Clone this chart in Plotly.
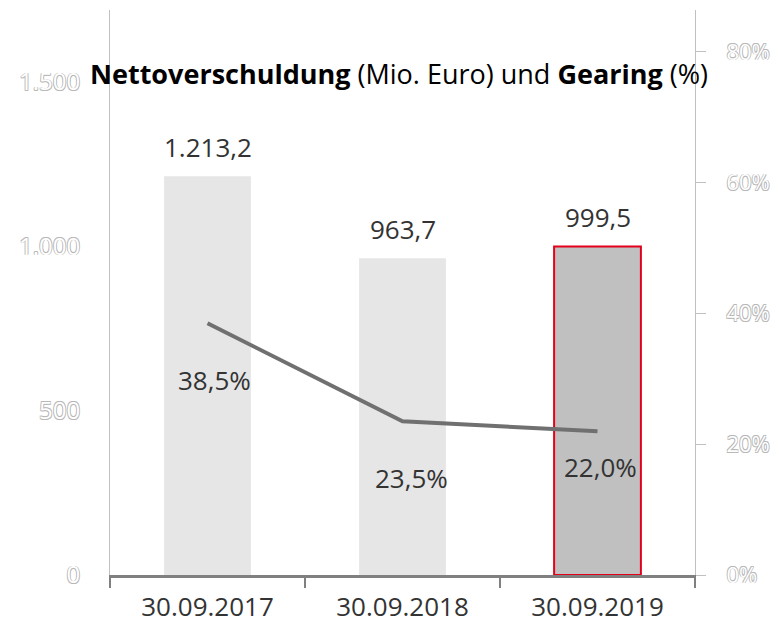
import plotly.graph_objects as go

# Data
dates = ['30.09.2017', '30.09.2018', '30.09.2019']
net_debt = [1213.2, 963.7, 999.5]          # Mio. Euro
gearing = [38.5, 23.5, 22.0]               # %
debt_labels = ['1.213,2', '963,7', '999,5']
gearing_labels = ['38,5%', '23,5%', '22,0%']
left_ticks = [0, 500, 1000, 1500]
left_ticktext = ['0', '500', '1.000', '1.500']
right_ticks = [0, 20, 40, 60, 80]
right_ticktext = ['0%', '20%', '40%', '60%', '80%']

FONT = 'Open Sans'
TEXT = '#333333'
OUTLINE = ('-0.7px -0.7px 0 #b8b8b8, 0.7px -0.7px 0 #b8b8b8, '
           '-0.7px 0.7px 0 #b8b8b8, 0.7px 0.7px 0 #b8b8b8')

fig = go.Figure()

fig.add_trace(go.Bar(
    x=dates,
    y=net_debt,
    width=0.445,
    marker=dict(
        color=['#e6e6e6', '#e6e6e6', '#c0c0c0'],
        line=dict(color=['rgba(0,0,0,0)', 'rgba(0,0,0,0)', '#e2001a'], width=2),
    ),
    hoverinfo='skip',
    yaxis='y',
))

fig.add_trace(go.Scatter(
    x=dates,
    y=gearing,
    mode='lines',
    line=dict(color='#707070', width=4),
    hoverinfo='skip',
    yaxis='y2',
))

# value labels above the bars
for d, v, t in zip(dates, net_debt, debt_labels):
    fig.add_annotation(x=d, y=v, xref='x', yref='y', text=t, showarrow=False,
                       yanchor='middle', yshift=29,
                       font=dict(family=FONT, size=26, color=TEXT))

# gearing labels under the line
shifts = [(7, -57), (9, -57), (3, -36)]
for d, v, t, (dx, dy) in zip(dates, gearing, gearing_labels, shifts):
    fig.add_annotation(x=d, y=v, xref='x', yref='y2', text=t, showarrow=False,
                       yanchor='middle', xshift=dx, yshift=dy,
                       font=dict(family=FONT, size=26, color=TEXT))

fig.update_layout(
    width=779,
    height=623,
    margin=dict(l=102, r=92, t=2, b=56),
    plot_bgcolor='white',
    paper_bgcolor='white',
    showlegend=False,
    separators=',.',
    title=dict(
        text='<b>Nettoverschuldung</b> (Mio. Euro) und <b>Gearing</b> (%)',
        x=391 / 779, xanchor='center', xref='container',
        y=1 - 67 / 623, yanchor='middle', yref='container',
        font=dict(family=FONT, size=27, color='#000000'),
    ),
    xaxis=dict(
        showline=True, linecolor='#808080', linewidth=3,
        ticks='outside', tickson='boundaries', ticklen=10, tickwidth=2, tickcolor='#808080',
        tickfont=dict(family=FONT, size=26, color=TEXT),
        ticklabelstandoff=7,
        showgrid=False,
    ),
    yaxis=dict(
        range=[0, 1719], tickvals=left_ticks, ticktext=left_ticktext,
        showline=True, linecolor='#c0c0c0', linewidth=1,
        showgrid=False, zeroline=False, ticks='',
        tickfont=dict(family=FONT, size=24, color='white', shadow=OUTLINE),
        ticklabelstandoff=24,
    ),
    yaxis2=dict(
        range=[0, 86.4], tickvals=right_ticks, ticktext=right_ticktext,
        overlaying='y', side='right',
        showline=True, linecolor='#c0c0c0', linewidth=1,
        ticks='outside', ticklen=10, tickcolor='#c0c0c0',
        showgrid=False, zeroline=False,
        tickfont=dict(family=FONT, size=22, color='white', shadow=OUTLINE),
        ticklabelstandoff=16,
    ),
)

fig.write_html('out.html')
